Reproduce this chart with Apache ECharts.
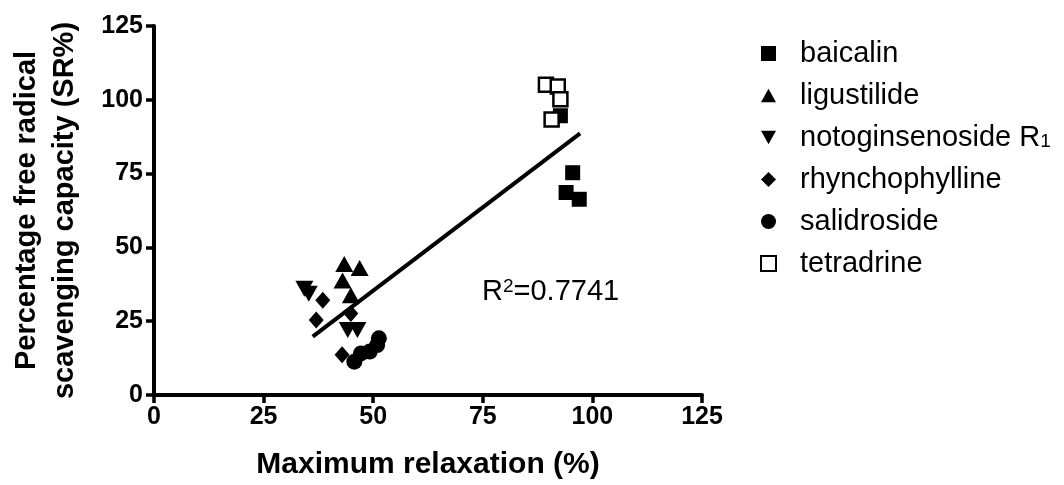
<!DOCTYPE html>
<html><head><meta charset="utf-8">
<script src="https://cdn.jsdelivr.net/npm/echarts@6/dist/echarts.min.js"></script>
<style>html,body{margin:0;padding:0;background:#fff}#c{width:1064px;height:485px}</style>
</head><body><div id="c"></div>
<script>
const seriesNames = ['baicalin','ligustilide','notoginsenoside R1','rhynchophylline','salidroside','tetradrine'];
const baicalin = [[92.7,94.6],[95.5,75.3],[94.0,68.6],[97.0,66.3]];
const ligustilide = [[43.4,44.4],[46.9,43.0],[43.0,38.8],[44.9,33.8]];
const notoginsenoside = [[34.3,36.0],[35.3,34.3],[44.2,22.0],[46.4,22.0]];
const rhynchophylline = [[38.5,32.1],[37.0,25.4],[44.9,27.6],[42.9,13.6]];
const salidroside = [[45.7,11.3],[47.2,14.1],[49.2,14.7],[50.9,16.9],[51.3,19.2]];
const tetradrine = [[89.4,105.1],[92.1,104.5],[92.7,100.2],[90.7,93.3]];
const fitLine = [[36.2,19.8],[97.2,88.6]];
const xTicks = [0,25,50,75,100,125];
const yTicks = [0,25,50,75,100,125];
const r2Label = 'R{sup|2}=0.7741';

const FONT = 'Liberation Sans, Arial, sans-serif';
const downTri = 'path://M0,0 L10,0 L5,9 Z';
const upTri = 'path://M5,0 L10,9 L0,9 Z';

const chart = echarts.init(document.getElementById('c'), null, {renderer:'canvas'});
const axisCommon = {
  min: 0, max: 125, interval: 25,
  axisLine: {show:true, lineStyle:{color:'#000', width:4}},
  axisTick: {show:true, length:8, lineStyle:{color:'#000', width:3.5}},
  splitLine: {show:false},
  axisLabel: {color:'#000', fontFamily:FONT, fontWeight:'bold', fontSize:25}
};
function sc(name, data, symbol, size, style) {
  return {name, type:'scatter', data, symbol, symbolSize:size,
    itemStyle: Object.assign({color:'#000', opacity:1}, style || {}), z:2};
}
chart.setOption({
  animation:false,
  backgroundColor:'#fff',
  grid:{left:150, right:362, top:26, bottom:88, containLabel:false},
  xAxis: Object.assign({}, axisCommon, {
    type:'value',
    name:'Maximum relaxation (%)', nameLocation:'middle', nameGap:55,
    nameTextStyle:{color:'#000', fontFamily:FONT, fontWeight:'bold', fontSize:30},
    axisLabel: Object.assign({}, axisCommon.axisLabel, {margin:10,
      formatter: v => xTicks.includes(v) ? String(v) : ''})
  }),
  yAxis: Object.assign({}, axisCommon, {
    type:'value',
    name:'Percentage free radical\nscavenging capacity (SR%)', nameLocation:'middle', nameGap:70,
    nameTextStyle:{color:'#000', fontFamily:FONT, fontWeight:'bold', fontSize:29, lineHeight:38},
    axisLabel: Object.assign({}, axisCommon.axisLabel, {margin:11,
      formatter: v => yTicks.includes(v) ? String(v) : ''})
  }),
  legend:{
    orient:'vertical', left:755, top:34, itemGap:13, itemWidth:15, itemHeight:15,
    data: seriesNames,
    textStyle:{color:'#000', fontFamily:FONT, fontSize:29, lineHeight:28, padding:[0,0,0,19],
      rich:{sub:{fontSize:19, fontFamily:FONT, color:'#000', lineHeight:8, verticalAlign:'bottom'}}},
    formatter: n => n === 'notoginsenoside R1' ? 'notoginsenoside R{sub|1}' : n
  },
  graphic:[{
    type:'text', left:482, top:277, z:10,
    style:{text:r2Label, fill:'#000', font:'29px ' + FONT,
      rich:{sup:{fontSize:19, fontFamily:FONT, fill:'#000', lineHeight:8, verticalAlign:'top'}}}
  }],
  series:[
    sc(seriesNames[0], baicalin, 'rect', 15),
    sc(seriesNames[1], ligustilide, upTri, [18,16]),
    sc(seriesNames[2], notoginsenoside, downTri, [18,16]),
    sc(seriesNames[3], rhynchophylline, 'diamond', [15,17]),
    sc(seriesNames[4], salidroside, 'circle', 16),
    sc(seriesNames[5], tetradrine, 'rect', 14, {color:'#fff', borderColor:'#000', borderWidth:2.5}),
    {name:'fit', type:'line', data:fitLine, symbol:'none', z:5,
      lineStyle:{color:'#000', width:4}, silent:true}
  ]
});
</script></body></html>
